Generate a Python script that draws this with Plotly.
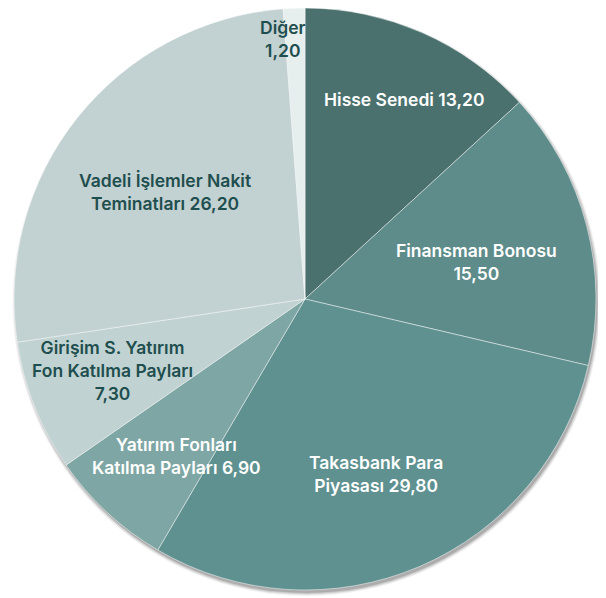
import plotly.graph_objects as go

labels = ["Hisse Senedi", "Finansman Bonosu", "Takasbank Para Piyasası",
          "Yatırım Fonları Katılma Payları", "Girişim S. Yatırım Fon Katılma Payları",
          "Vadeli İşlemler Nakit Teminatları", "Diğer"]
values = [13.20, 15.50, 29.80, 6.90, 7.30, 26.20, 1.20]
label_text = ["Hisse Senedi 13,20", "Finansman Bonosu<br>15,50",
              "Takasbank Para<br>Piyasası 29,80", "Yatırım Fonları<br>Katılma Payları 6,90",
              "Girişim S. Yatırım<br>Fon Katılma Payları<br>7,30",
              "Vadeli İşlemler Nakit<br>Teminatları 26,20", "Diğer<br>1,20"]

colors = ["#4a716e", "#5d8c8a", "#5e9190", "#7ea6a4", "#c0d3d2", "#c2d1d1", "#e6eeee"]
text_colors = ["#ffffff", "#ffffff", "#ffffff", "#ffffff", "#1f4e4f", "#1f4e4f", "#1f4e4f"]
# label centre offsets from the pie centre, in units of the radius (x right, y down)
label_dx = [0.342, 0.588, 0.244, -0.443, -0.663, -0.481, -0.076]
label_dy = [-0.684, -0.127, 0.601, 0.540, 0.244, -0.368, -0.893]

# page body has an 8px margin, so the figure is 8px smaller than the window
W, H = 598, 590
ml, mr, mt, mb = 6, 10, 0, 8
pw, ph = W - ml - mr, H - mt - mb
R = min(pw, ph) / 2
cx, cy = ml + pw / 2, mt + ph / 2


def to_paper(px, py):
    return (px - ml) / pw, (H - mb - py) / ph


fig = go.Figure()
fig.add_trace(go.Pie(
    labels=labels, values=values, sort=False, direction="clockwise", rotation=0,
    marker=dict(colors=colors, line=dict(color="rgba(255,255,255,0.6)", width=0.8)),
    textinfo="none", hoverinfo="label+value", showlegend=False,
))

annotations = []
for t, c, dx, dy in zip(label_text, text_colors, label_dx, label_dy):
    x, y = to_paper(cx + dx * R, cy + dy * R)
    annotations.append(dict(
        x=x, y=y, xref="paper", yref="paper",
        text=t, showarrow=False, xanchor="center", yanchor="middle",
        font=dict(family="Inter", size=17.5, color=c, weight=600),
    ))

# soft drop shadow under the pie
shapes = []
for extra, op in [(3.0, 0.05), (2.0, 0.07), (1.0, 0.10), (0.0, 0.14)]:
    sx, sy = cx + 1.5, cy + 3.0
    x0, y1 = to_paper(sx - R - extra, sy - R - extra)
    x1, y0 = to_paper(sx + R + extra, sy + R + extra)
    shapes.append(dict(type="circle", xref="paper", yref="paper",
                       x0=x0, x1=x1, y0=y0, y1=y1, layer="below",
                       fillcolor=f"rgba(0,0,0,{op})", line=dict(width=0)))

fig.update_layout(
    width=W, height=H, margin=dict(l=ml, r=mr, t=mt, b=mb),
    paper_bgcolor="white", plot_bgcolor="rgba(0,0,0,0)",
    annotations=annotations, shapes=shapes,
)
fig.write_html("out.html")
